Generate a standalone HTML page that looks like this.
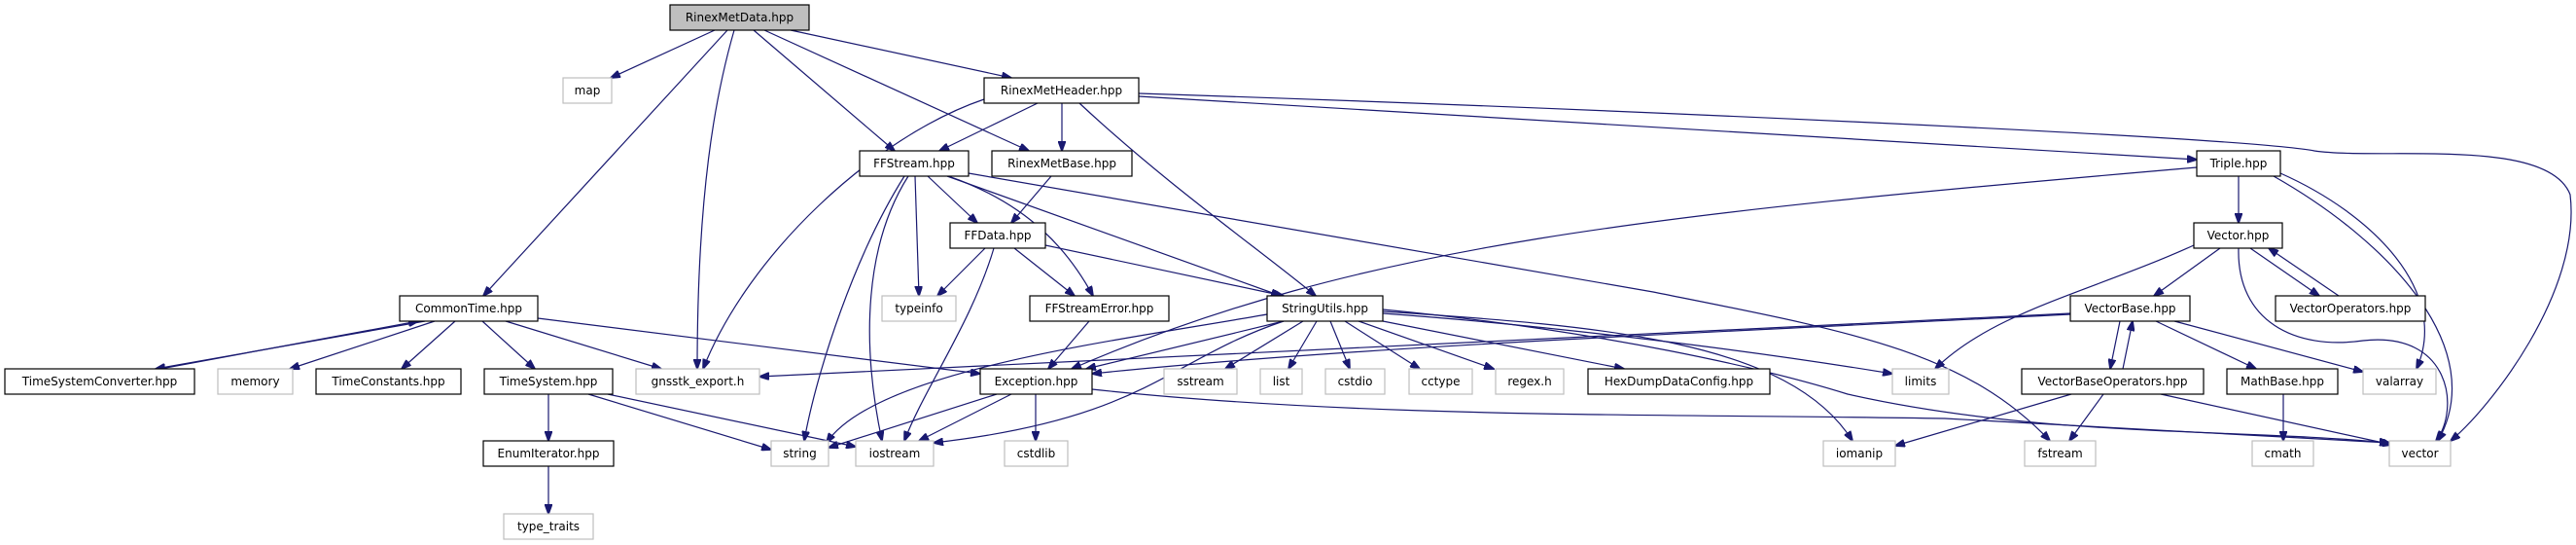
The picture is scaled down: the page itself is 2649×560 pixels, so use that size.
<!DOCTYPE html>
<html><head><meta charset="utf-8"><style>
html,body{margin:0;padding:0;background:#fff;}
svg{display:block;}
text{font-family:"DejaVu Sans","Liberation Sans",sans-serif;font-size:12px;fill:#000;}
.e{fill:none;stroke:#191970;stroke-width:1.2;marker-end:url(#a);}
.n{fill:#fff;stroke:#000;stroke-width:1.2;}
.g{fill:#fff;stroke:#bfbfbf;stroke-width:1.2;}
</style></head><body>
<svg width="2649" height="560" viewBox="0 0 2649 560" xmlns="http://www.w3.org/2000/svg">
<defs><marker id="a" markerUnits="userSpaceOnUse" markerWidth="11" markerHeight="8" refX="10" refY="4" orient="auto"><path d="M0,0 L11,4 L0,8 z" fill="#191970" stroke="#191970"/></marker></defs>
<g>
<path class="e" d="M735,31 L628,80"/>
<path class="e" d="M748,31 L497,304"/>
<path class="e" d="M755,31 C735,100 717,200 717,379"/>
<path class="e" d="M775,31 L920,155"/>
<path class="e" d="M786,31 L1058,155"/>
<path class="e" d="M813,31 L1040,80"/>
<path class="e" d="M1067,106 L966,155"/>
<path class="e" d="M1092,106 L1092,155"/>
<path class="e" d="M1012,102 C900,140 770,260 723,379"/>
<path class="e" d="M1110,106 C1200,190 1300,260 1353,304"/>
<path class="e" d="M1171,99 L2259,164"/>
<path class="e" d="M1171,96 C1600,110 2300,140 2380,155 C2450,165 2620,140 2643,200 C2655,300 2560,420 2520,453"/>
<path class="e" d="M954,181 L1005,229"/>
<path class="e" d="M975,181 C1060,210 1100,260 1124,304"/>
<path class="e" d="M974,181 L1317,304"/>
<path class="e" d="M941,181 L945,304"/>
<path class="e" d="M934,181 C890,250 885,350 907,453"/>
<path class="e" d="M930,181 C880,260 840,380 827,453"/>
<path class="e" d="M996,178 L1700,300 C1900,340 2020,360 2108,453"/>
<path class="e" d="M1081,181 L1040,229"/>
<path class="e" d="M1013,255 L964,304"/>
<path class="e" d="M1022,255 C1000,330 950,400 930,453"/>
<path class="e" d="M1043,255 L1105,304"/>
<path class="e" d="M1075,252 L1320,304"/>
<path class="e" d="M1120,330 L1078,379"/>
<path class="e" d="M1320,330 L1117,379"/>
<path class="e" d="M2259,172 C1700,220 1400,250 1102,379"/>
<path class="e" d="M1303,323 C1150,350 900,380 850,455"/>
<path class="e" d="M1320,330 C1200,370 1180,430 960,455"/>
<path class="e" d="M1340,330 L1260,379"/>
<path class="e" d="M1354,330 L1325,379"/>
<path class="e" d="M1368,330 L1388,379"/>
<path class="e" d="M1383,330 L1460,379"/>
<path class="e" d="M1397,330 L1536,379"/>
<path class="e" d="M1422,330 L1670,379"/>
<path class="e" d="M1422,322 C1600,335 1800,360 1946,384"/>
<path class="e" d="M1422,320 C1650,335 1840,350 1905,453"/>
<path class="e" d="M1422,318 C1650,340 1820,380 1900,405 C2100,450 2300,440 2457,455"/>
<path class="e" d="M2129,322 L781,387"/>
<path class="e" d="M2129,323 C1800,340 1400,355 1123,384"/>
<path class="e" d="M2302,181 L2302,229"/>
<path class="e" d="M2345,178 C2440,220 2520,300 2485,379"/>
<path class="e" d="M2338,181 C2460,250 2560,360 2507,453"/>
<path class="e" d="M1123,400 C1400,430 1700,425 2000,430 L2457,455"/>
<path class="e" d="M2283,255 L2215,304"/>
<path class="e" d="M2256,252 C2150,300 2050,320 1990,379"/>
<path class="e" d="M2314,255 L2385,304"/>
<path class="e" d="M2405,304 L2333,255"/>
<path class="e" d="M2302,255 C2300,330 2360,360 2430,350 C2520,340 2530,420 2505,453"/>
<path class="e" d="M2180,330 L2170,379"/>
<path class="e" d="M2183,379 L2193,330"/>
<path class="e" d="M2217,330 L2320,379"/>
<path class="e" d="M2236,330 L2430,382"/>
<path class="e" d="M2130,405 L1949,458"/>
<path class="e" d="M2163,405 L2128,453"/>
<path class="e" d="M2222,405 L2460,457"/>
<path class="e" d="M2348,405 L2348,453"/>
<path class="e" d="M437,330 L160,379"/>
<path class="e" d="M165,379 L430,330"/>
<path class="e" d="M447,330 L298,379"/>
<path class="e" d="M468,330 L413,379"/>
<path class="e" d="M496,330 L550,379"/>
<path class="e" d="M520,330 L680,379"/>
<path class="e" d="M553,327 L1008,384"/>
<path class="e" d="M564,405 L564,453"/>
<path class="e" d="M605,405 L793,462"/>
<path class="e" d="M625,405 L880,459"/>
<path class="e" d="M564,479 L564,528"/>
<path class="e" d="M1025,405 L852,460"/>
<path class="e" d="M1040,405 L945,453"/>
<path class="e" d="M1065,405 L1065,453"/>
</g>
<g text-anchor="middle">
<rect x="689" y="5" width="143" height="26" fill="#bfbfbf" stroke="#000" stroke-width="1.2"/><text x="760.5" y="22">RinexMetData.hpp</text>
<rect class="g" x="579" y="80" width="50" height="26"/><text x="604" y="97">map</text>
<rect class="n" x="1012" y="80" width="159" height="26"/><text x="1091.5" y="97">RinexMetHeader.hpp</text>
<rect class="n" x="884" y="155" width="112" height="26"/><text x="940" y="172">FFStream.hpp</text>
<rect class="n" x="1020" y="155" width="144" height="26"/><text x="1092" y="172">RinexMetBase.hpp</text>
<rect class="n" x="2259" y="155" width="86" height="26"/><text x="2302" y="172">Triple.hpp</text>
<rect class="n" x="977" y="229" width="98" height="26"/><text x="1026" y="246">FFData.hpp</text>
<rect class="n" x="2256" y="229" width="91" height="26"/><text x="2301.5" y="246">Vector.hpp</text>
<rect class="n" x="411" y="304" width="142" height="26"/><text x="482" y="321">CommonTime.hpp</text>
<rect class="g" x="907" y="304" width="76" height="26"/><text x="945" y="321">typeinfo</text>
<rect class="n" x="1059" y="304" width="143" height="26"/><text x="1130.5" y="321">FFStreamError.hpp</text>
<rect class="n" x="1303" y="304" width="119" height="26"/><text x="1362.5" y="321">StringUtils.hpp</text>
<rect class="n" x="2129" y="304" width="123" height="26"/><text x="2190.5" y="321">VectorBase.hpp</text>
<rect class="n" x="2340" y="304" width="154" height="26"/><text x="2417" y="321">VectorOperators.hpp</text>
<rect class="n" x="5" y="379" width="195" height="26"/><text x="102.5" y="396">TimeSystemConverter.hpp</text>
<rect class="g" x="224" y="379" width="77" height="26"/><text x="262.5" y="396">memory</text>
<rect class="n" x="325" y="379" width="149" height="26"/><text x="399.5" y="396">TimeConstants.hpp</text>
<rect class="n" x="498" y="379" width="132" height="26"/><text x="564" y="396">TimeSystem.hpp</text>
<rect class="g" x="654" y="379" width="127" height="26"/><text x="717.5" y="396">gnsstk_export.h</text>
<rect class="n" x="1008" y="379" width="115" height="26"/><text x="1065.5" y="396">Exception.hpp</text>
<rect class="g" x="1197" y="379" width="75" height="26"/><text x="1234.5" y="396">sstream</text>
<rect class="g" x="1296" y="379" width="43" height="26"/><text x="1317.5" y="396">list</text>
<rect class="g" x="1363" y="379" width="61" height="26"/><text x="1393.5" y="396">cstdio</text>
<rect class="g" x="1449" y="379" width="65" height="26"/><text x="1481.5" y="396">cctype</text>
<rect class="g" x="1538" y="379" width="70" height="26"/><text x="1573" y="396">regex.h</text>
<rect class="n" x="1633" y="379" width="187" height="26"/><text x="1726.5" y="396">HexDumpDataConfig.hpp</text>
<rect class="g" x="1946" y="379" width="58" height="26"/><text x="1975" y="396">limits</text>
<rect class="n" x="2079" y="379" width="187" height="26"/><text x="2172.5" y="396">VectorBaseOperators.hpp</text>
<rect class="n" x="2290" y="379" width="114" height="26"/><text x="2347" y="396">MathBase.hpp</text>
<rect class="g" x="2430" y="379" width="75" height="26"/><text x="2467.5" y="396">valarray</text>
<rect class="n" x="497" y="453" width="134" height="26"/><text x="564" y="470">EnumIterator.hpp</text>
<rect class="g" x="793" y="453" width="59" height="26"/><text x="822.5" y="470">string</text>
<rect class="g" x="880" y="453" width="80" height="26"/><text x="920" y="470">iostream</text>
<rect class="g" x="1033" y="453" width="65" height="26"/><text x="1065.5" y="470">cstdlib</text>
<rect class="g" x="1875" y="453" width="74" height="26"/><text x="1912" y="470">iomanip</text>
<rect class="g" x="2082" y="453" width="73" height="26"/><text x="2118.5" y="470">fstream</text>
<rect class="g" x="2316" y="453" width="63" height="26"/><text x="2347.5" y="470">cmath</text>
<rect class="g" x="2457" y="453" width="63" height="26"/><text x="2488.5" y="470">vector</text>
<rect class="g" x="518" y="528" width="92" height="26"/><text x="564" y="545">type_traits</text>
</g>
</svg>
</body></html>
